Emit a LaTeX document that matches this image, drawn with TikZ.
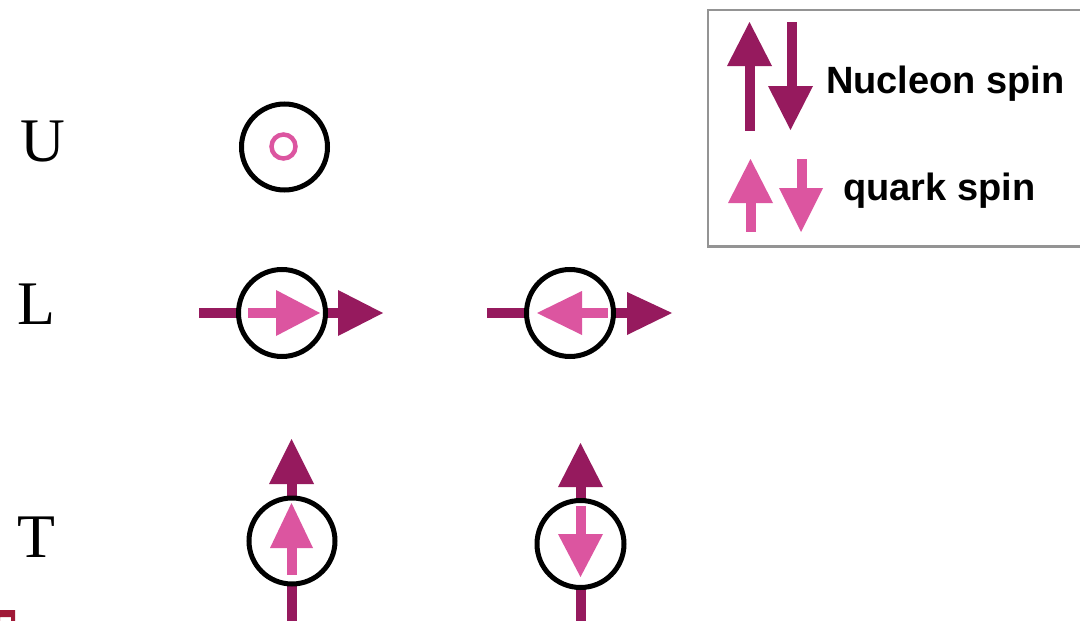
\documentclass[tikz,border=0pt]{standalone}
\usepackage{fontspec}
\setmainfont{Liberation Serif}
\newfontfamily\lsans{Liberation Sans}
\definecolor{nuc}{RGB}{150,26,94}
\definecolor{qrk}{RGB}{220,85,160}
\definecolor{corner}{RGB}{160,25,55}
\tikzset{
  ring/.style={draw=black,fill=white,line width=5pt},
  nshaft/.style={draw=nuc,line width=10pt},
  qshaft/.style={draw=qrk,line width=10pt},
  nhead/.style={fill=nuc},
  qhead/.style={fill=qrk},
  rowlabel/.style={anchor=base west,inner sep=0pt,font=\fontsize{62}{62}\selectfont},
  legtext/.style={anchor=base west,inner sep=0pt,font=\lsans\bfseries\fontsize{38}{38}\selectfont},
}
\begin{document}
\begin{tikzpicture}[x=1pt,y=-1pt]
\useasboundingbox (0,0) rectangle (1080,621);
\clip (0,0) rectangle (1080,621);
\fill[white] (0,0) rectangle (1080,621);
% row labels
\node[rowlabel] (lU) at (20,161) {U};
\node[rowlabel] (lL) at (17,324) {L};
\node[rowlabel] (lT) at (17,557) {T};
% U
\draw[ring] (284.5,147) circle[radius=43];
\draw[draw=qrk,line width=4.5pt] (283.5,146.5) circle[radius=12];
% L left
\draw[nshaft] (199,313) -- (341,313);
\fill[nhead] (338,290) -- (383,313) -- (338,336) -- cycle;
\draw[ring] (282,313) circle[radius=43.5];
\draw[qshaft] (248,313) -- (278,313);
\fill[qhead] (276,290) -- (320,313) -- (276,336) -- cycle;
% L right
\draw[nshaft] (487,313) -- (629,313);
\fill[nhead] (627,292) -- (672,313) -- (627,335) -- cycle;
\draw[ring] (570,313) circle[radius=43.5];
\draw[qshaft] (580,313) -- (608,313);
\fill[qhead] (582,291) -- (537,313) -- (582,335) -- cycle;
% T left
\draw[nshaft] (291.5,482) -- (291.5,630);
\fill[nhead] (269,484) -- (291.5,439) -- (314,484) -- cycle;
\draw[ring] (292,541) circle[radius=43];
\draw[qshaft] (291.5,546) -- (291.5,575);
\fill[qhead] (270,548) -- (291.5,503) -- (313,548) -- cycle;
% T right
\draw[nshaft] (580.5,485) -- (580.5,630);
\fill[nhead] (558,487) -- (580.5,443) -- (603,487) -- cycle;
\draw[ring] (580.5,544) circle[radius=43.5];
\draw[qshaft] (580.5,506) -- (580.5,536);
\fill[qhead] (558,534) -- (580.5,577) -- (603,534) -- cycle;
% legend
\draw[draw=black!42,line width=2.5pt] (708,10) rectangle (1090,246.5);
\draw[nshaft] (749.5,64) -- (749.5,131);
\fill[nhead] (727,66) -- (749.5,22) -- (772,66) -- cycle;
\draw[nshaft] (791.5,22) -- (791.5,88);
\fill[nhead] (768,86) -- (790.5,130) -- (813,86) -- cycle;
\node[legtext] (tn) at (826,93) {Nucleon spin};
\draw[qshaft] (750.5,201) -- (750.5,232);
\fill[qhead] (728,203) -- (750.5,159) -- (773,203) -- cycle;
\draw[qshaft] (801.5,159) -- (801.5,190);
\fill[qhead] (779,188) -- (801,232) -- (823,188) -- cycle;
\node[legtext] (tq) at (843,200) {quark spin};
% corner mark
\fill[corner,even odd rule] (0,610) rectangle (15,625) (-1,617) rectangle (11,625);
\end{tikzpicture}
\end{document}
